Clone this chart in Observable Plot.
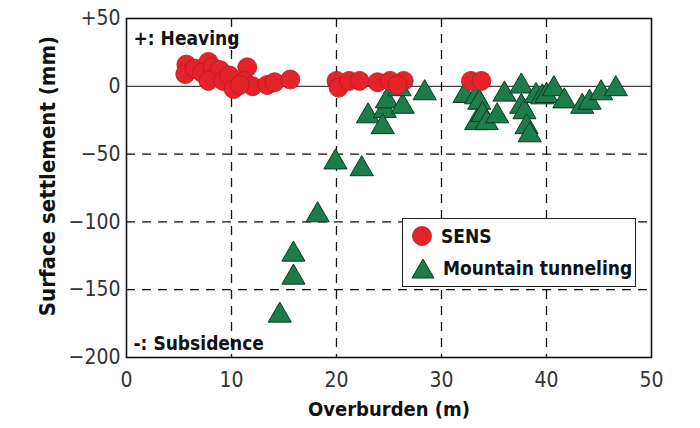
<!DOCTYPE html>
<html>
<head>
<meta charset="utf-8">
<script src="https://cdn.jsdelivr.net/npm/d3@7"></script>
<script src="https://cdn.jsdelivr.net/npm/@observablehq/plot@0.6"></script>
<style>
  body { margin: 0; background: #fff; }
  #wrap { position: relative; width: 700px; height: 428px; }
  .cond { font-family: "Liberation Sans Narrow", "DejaVu Sans Condensed", "Arial Narrow", sans-serif; }
  #legend { position: absolute; left: 402px; top: 218px; width: 234px; height: 69px;
    border: 1.5px solid #222; background: #fff; box-sizing: border-box; }
  #legend .row { position: absolute; left: 8px; display: flex; align-items: center; white-space: nowrap;
    font-weight: bold; font-size: 19px; color: #111; }
  #legend svg { margin-right: 8px; }
</style>
</head>
<body>
<div id="wrap"></div>
<script>
// SENS (red circles): overburden (m), surface settlement (mm)
const sensX = [5.7, 5.6, 6.5, 7.8, 7.2, 8.2, 8.9, 7.8, 9.2, 9.8, 10.2, 11.5, 11.2, 12.0, 13.4, 14.1, 15.6, 10.8,
               20.0, 20.2, 21.2, 22.2, 23.9, 25.1, 26.4, 25.8, 32.8, 33.8];
const sensY = [16, 9, 13, 18, 10, 14, 12, 4, 4, 8, -2, 14, 4, 0, 1, 3, 5, 1,
               4, -1, 4, 4, 3, 4, 4, 1, 4, 4];
// Mountain tunneling (green triangles)
const mtX = [14.6, 15.9, 15.9, 18.2, 19.9, 22.4, 23.0, 24.6, 24.8, 24.4, 26.3, 26.0, 28.4,
             32.2, 33.3, 33.6, 33.3, 33.9, 34.3, 35.3, 36.0, 37.6, 37.6, 37.9, 38.1, 38.4,
             39.0, 39.6, 40.0, 40.7, 41.7, 43.4, 44.1, 45.2, 46.6];
const mtY = [-169, -141, -124, -95, -56, -61, -22, -18, -11, -30, -15, -2, -5,
             -7, -8, -12, -27, -21, -27, -22, -6, 0, -15, -19, -30, -36,
             -7, -8, -7, -2, -11, -15, -12, -5, -2];
const xTicks = [0, 10, 20, 30, 40, 50];
const yTicks = [50, 0, -50, -100, -150, -200];
const xGrid = [10, 20, 30, 40];
const yGrid = [-50, -100, -150];
const seriesNames = ["SENS", "Mountain tunneling"];
const xTitle = "Overburden (m)";
const yTitle = "Surface settlement (mm)";
const noteTop = "+: Heaving";
const noteBottom = "-: Subsidence";

const sens = sensX.map((x, i) => ({x, y: sensY[i]}));
const mt = mtX.map((x, i) => ({x, y: mtY[i]}));

const FONT = '"Liberation Sans Narrow", "DejaVu Sans Condensed", "Arial Narrow", sans-serif';
const RED = "#e5232b", REDS = "#b81a20";
const GREEN = "#1c7c4c", GREENS = "#0a3a20";

const fmtY = d => d > 0 ? `+${d}` : d < 0 ? `\u2212${-d}` : "0";

const chart = Plot.plot({
  width: 700,
  height: 428,
  marginLeft: 126,
  marginRight: 49,
  marginTop: 18,
  marginBottom: 71,
  style: {fontFamily: FONT, fontSize: "21px", color: "#333", background: "#fff"},
  x: {domain: [0, 50]},
  y: {domain: [-200, 50]},
  marks: [
    Plot.ruleX(xGrid, {stroke: "#111", strokeWidth: 1.3, strokeDasharray: "9,7"}),
    Plot.ruleY(yGrid, {stroke: "#111", strokeWidth: 1.3, strokeDasharray: "9,7"}),
    Plot.ruleY([0], {stroke: "#111", strokeWidth: 1}),
    Plot.dot(mt, {x: "x", y: "y", symbol: "triangle", r: 8.6, fill: GREEN, stroke: GREENS, strokeWidth: 1}),
    Plot.dot(sens, {x: "x", y: "y", r: 9.5, fill: RED, stroke: REDS, strokeWidth: 0.8}),
    Plot.frame({stroke: "#111", strokeWidth: 1.6}),
    Plot.axisX(xTicks, {tickSize: 0, tickPadding: 15, label: null, fontSize: 21}),
    Plot.axisY(yTicks, {tickSize: 0, tickPadding: 6, label: null, tickFormat: fmtY, fontSize: 21}),
    Plot.text([xTitle], {frameAnchor: "bottom", dy: 58, fontWeight: "bold", fontSize: 20, fill: "#111"}),
    Plot.text([yTitle], {frameAnchor: "left", textAnchor: "middle", rotate: -90, dx: -79, dy: -12, fontWeight: "bold", fontSize: 22, fill: "#111"}),
    Plot.text([noteTop], {frameAnchor: "top-left", dx: 7, dy: 13, fontWeight: "bold", fontSize: 19, fill: "#111"}),
    Plot.text([noteBottom], {frameAnchor: "bottom-left", dx: 7, dy: -8, fontWeight: "bold", fontSize: 19, fill: "#111"})
  ]
});

const wrap = document.getElementById("wrap");
wrap.appendChild(chart);

const legend = document.createElement("div");
legend.id = "legend";
legend.className = "cond";
legend.innerHTML = `
  <div class="row" style="top:6px">
    <svg width="22" height="22"><circle cx="11" cy="11" r="9.5" fill="${RED}" stroke="${REDS}" stroke-width="0.8"/></svg>${seriesNames[0]}
  </div>
  <div class="row" style="top:38px">
    <svg width="24" height="22"><path d="M12,2 L23,21 L1,21 Z" fill="${GREEN}" stroke="${GREENS}" stroke-width="1"/></svg>${seriesNames[1]}
  </div>`;
wrap.appendChild(legend);
</script>
</body>
</html>
